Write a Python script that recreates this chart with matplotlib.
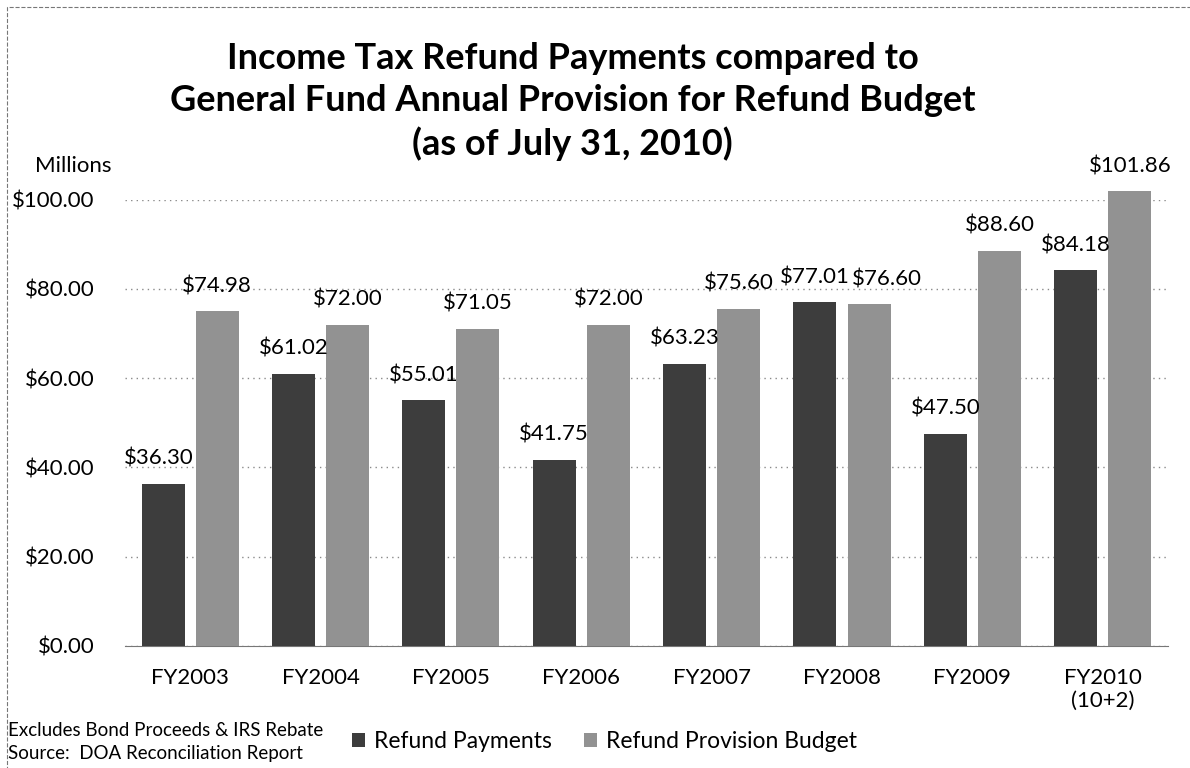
import matplotlib.pyplot as plt
import numpy as np
from matplotlib.patches import Rectangle

plt.rcParams['font.family'] = ['Lato', 'DejaVu Sans']

# Fiscal years and refund figures (millions of dollars)
years = ['FY2003', 'FY2004', 'FY2005', 'FY2006', 'FY2007', 'FY2008', 'FY2009', 'FY2010\n(10+2)']
refund_payments = [36.30, 61.02, 55.01, 41.75, 63.23, 77.01, 47.50, 84.18]
provision_budget = [74.98, 72.00, 71.05, 72.00, 75.60, 76.60, 88.60, 101.86]
y_ticks = [0, 20, 40, 60, 80, 100]

pay_color = '#3d3d3d'
budget_color = '#929292'

fig = plt.figure(figsize=(11.9, 7.68), dpi=100)
ax = fig.add_axes([0.105, 0.159, 0.8765, 0.581])

x = np.arange(len(years))
w = 0.33
gap = 0.085
off = (w + gap) / 2

bars1 = ax.bar(x - off, refund_payments, w, color=pay_color, label='Refund Payments',
               clip_on=False, zorder=3)
bars2 = ax.bar(x + off, provision_budget, w, color=budget_color, label='Refund Provision Budget',
               clip_on=False, zorder=3)

# value labels; a couple are nudged sideways so neighbours don't collide
for bars, shifts in ((bars1, {0: -3}), (bars2, {5: 13})):
    for i, b in enumerate(bars):
        h = b.get_height()
        ax.annotate(f'${h:.2f}', (b.get_x() + b.get_width() / 2, h),
                    xytext=(shifts.get(i, 0), 18), textcoords='offset points',
                    ha='center', va='center', fontsize=16, annotation_clip=False)

ax.set_xlim(-0.5, 7.5)
ax.set_ylim(0, 100)
ax.set_yticks(y_ticks)
ax.set_yticklabels([f'${v:.2f}' for v in y_ticks], fontsize=16)
ax.set_xticks(x)
ax.set_xticklabels(years, fontsize=16)
ax.tick_params(axis='x', length=0, pad=16)
ax.tick_params(axis='y', length=0, pad=22)

ax.yaxis.grid(True, linestyle=(0, (1, 3)), color='#8a8a8a', linewidth=1, zorder=0)
ax.set_axisbelow(True)
for s in ['top', 'right', 'left']:
    ax.spines[s].set_visible(False)
ax.spines['bottom'].set_color('#777777')

fig.text(73 / 1190, 1 - 166 / 768, 'Millions', fontsize=16, ha='center', va='center')

fig.text(0.481, 0.868, 'Income Tax Refund Payments compared to\nGeneral Fund Annual Provision for Refund Budget\n(as of July 31, 2010)',
         ha='center', va='center', fontsize=26, fontweight='bold', linespacing=1.32)

fig.text(0.007, 0.049, 'Excludes Bond Proceeds & IRS Rebate', fontsize=13.5, ha='left', va='center')
fig.text(0.007, 0.019, 'Source:  DOA Reconciliation Report', fontsize=13.5, ha='left', va='center')

fig.legend(handles=[bars1, bars2], loc='center', bbox_to_anchor=(0.508, 0.034), ncol=2,
           frameon=False, fontsize=16.5, handlelength=0.55, handleheight=0.55,
           handletextpad=0.4, columnspacing=1.4)

# dashed border around the page
fig.patches.append(Rectangle((0.006, -0.01), 1.0, 1.001, transform=fig.transFigure,
                             fill=False, edgecolor='#777777', linestyle='--', linewidth=0.8))

fig.savefig('out.png', dpi=100)
